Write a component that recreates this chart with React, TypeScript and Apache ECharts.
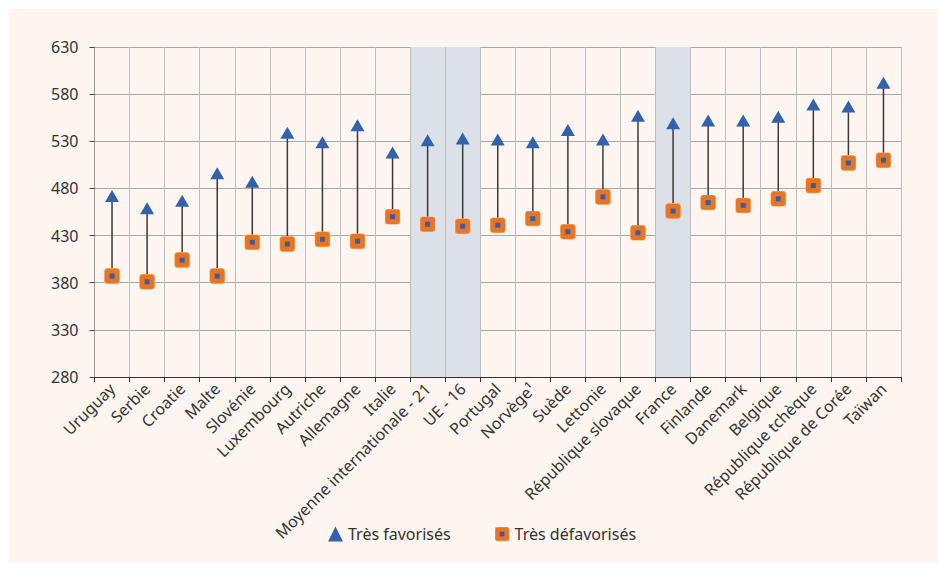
import React, { useEffect, useRef } from "react";
import * as echarts from "echarts";

const categories = [
  "Uruguay", "Serbie", "Croatie", "Malte", "Slovénie", "Luxembourg", "Autriche",
  "Allemagne", "Italie", "Moyenne internationale - 21", "UE - 16", "Portugal",
  "Norvège¹", "Suède", "Lettonie", "République slovaque", "France", "Finlande",
  "Danemark", "Belgique", "République tchèque", "République de Corée", "Taïwan",
];

const tresFavorises = [472, 459, 467, 496, 487, 539, 529, 547, 518, 531, 533, 532, 529, 542, 532, 557, 549, 552, 552, 556, 569, 567, 592];
const tresDefavorises = [387, 381, 404, 387, 423, 421, 426, 424, 450, 442, 440, 441, 448, 434, 471, 433, 456, 465, 462, 469, 483, 507, 510];

const highlighted = ["Moyenne internationale - 21", "UE - 16", "France"];

const yMin = 280;
const yMax = 630;
const yStep = 50;

const FONT = "'Noto Sans', sans-serif";

const squareSvg =
  '<svg xmlns="http://www.w3.org/2000/svg" width="32" height="32" viewBox="0 0 32 32">' +
  '<rect x="0" y="0" width="32" height="32" rx="7" ry="7" fill="#F3B483"/>' +
  '<rect x="1.5" y="1.5" width="29" height="29" rx="6" ry="6" fill="#E97524"/>' +
  '<rect x="11" y="11" width="10" height="10" fill="#3A5CA6"/>' +
  "</svg>";
const squareSymbol = "image://data:image/svg+xml;charset=utf-8," + encodeURIComponent(squareSvg);

export default function App() {
  const ref = useRef<HTMLDivElement>(null);

  useEffect(() => {
    if (!ref.current) return;
    const chart = echarts.init(ref.current, null, { renderer: "svg" });
    const areaColors = categories.map((c) =>
      highlighted.includes(c) ? "#DCE0E7" : "rgba(0,0,0,0)"
    );
    chart.setOption({
      animation: false,
      backgroundColor: "transparent",
      textStyle: { fontFamily: FONT },
      grid: { left: 85.5, top: 38, right: 37, bottom: 186, containLabel: false },
      legend: {
        left: 319,
        top: 517,
        padding: 0,
        itemWidth: 15,
        itemHeight: 15,
        itemGap: 44,
        textStyle: { fontFamily: FONT, fontSize: 16, color: "#333" },
        data: [
          { name: "Très favorisés", icon: "triangle" },
          { name: "Très défavorisés", icon: squareSymbol },
        ],
      },
      xAxis: {
        type: "category",
        data: categories,
        boundaryGap: true,
        axisLine: { show: true, lineStyle: { color: "#333", width: 1 } },
        axisTick: { show: true, length: 5, interval: 0, lineStyle: { color: "#333" } },
        axisLabel: {
          interval: 0,
          rotate: 45,
          margin: 9,
          fontFamily: FONT,
          fontSize: 16,
          color: "#333",
        },
        splitLine: { show: true, interval: 0, lineStyle: { color: "#BDBDBD", width: 1 } },
        splitArea: { show: true, interval: 0, areaStyle: { color: areaColors } },
      },
      yAxis: {
        type: "value",
        min: yMin,
        max: yMax,
        interval: yStep,
        axisLine: { show: true, lineStyle: { color: "#999", width: 1 } },
        axisTick: { show: true, length: 5, lineStyle: { color: "#444" } },
        axisLabel: { margin: 16, fontFamily: FONT, fontSize: 16, color: "#333" },
        splitLine: { show: true, lineStyle: { color: "#A8A8A8", width: 1 } },
      },
      series: [
        {
          type: "custom",
          name: "stems",
          silent: true,
          z: 1,
          renderItem: (params: any, api: any) => {
            const lo = api.coord([api.value(0), api.value(1)]);
            const hi = api.coord([api.value(0), api.value(2)]);
            return {
              type: "line",
              shape: { x1: lo[0], y1: lo[1], x2: hi[0], y2: hi[1] },
              style: { stroke: "#3a3a3a", lineWidth: 1.5 },
            };
          },
          encode: { x: 0, y: [1, 2] },
          data: categories.map((c, i) => [i, tresDefavorises[i], tresFavorises[i]]),
        },
        {
          type: "scatter",
          name: "Très favorisés",
          symbol: "triangle",
          symbolSize: [14, 12],
          itemStyle: { color: "#3262AE", opacity: 1 },
          z: 3,
          data: tresFavorises,
        },
        {
          type: "scatter",
          name: "Très défavorisés",
          symbol: squareSymbol,
          symbolSize: 16,
          itemStyle: { color: "#E97524", opacity: 1 },
          z: 3,
          data: tresDefavorises,
        },
      ],
    });
    return () => chart.dispose();
  }, []);

  return (
    <div style={{ position: "fixed", left: 0, top: 0, width: 938, height: 563, background: "#ffffff" }}>
      <div
        style={{ position: "absolute", left: 9, top: 9, width: 929, height: 554, background: "#FDF5EF" }}
      >
        <div ref={ref} style={{ width: 929, height: 554 }} />
      </div>
    </div>
  );
}
